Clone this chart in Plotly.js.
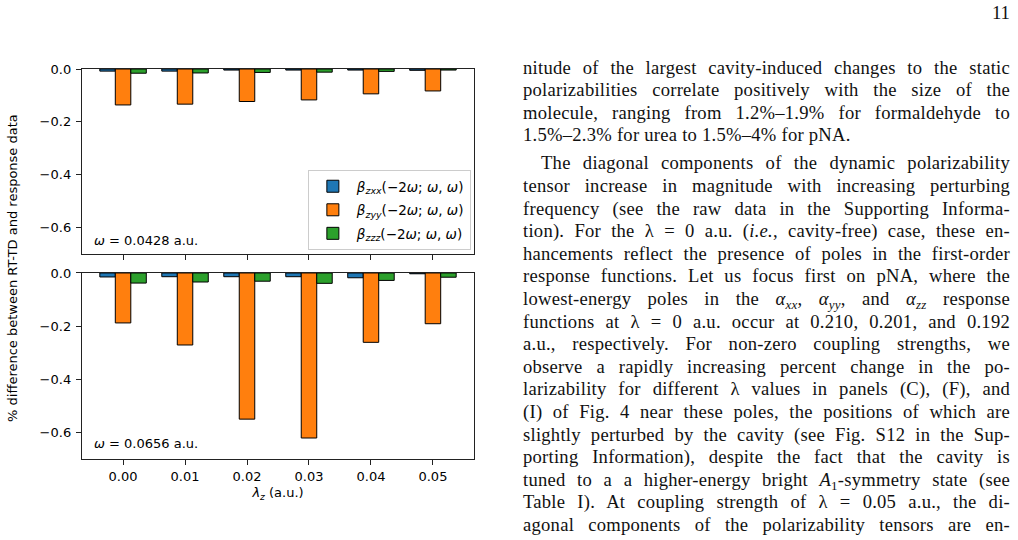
<!DOCTYPE html>
<html>
<head>
<meta charset="utf-8">
<script src="https://cdn.plot.ly/plotly-3.0.1.min.js"></script>
<style>
  body { margin: 0; background: #fff; width: 1018px; height: 540px; overflow: hidden; position: relative; }
  #chart { position: absolute; left: 0; top: 0; width: 480px; height: 540px; }
  #pageno { position: absolute; right: 8px; top: 2px; font-family: "Liberation Serif", serif; font-size: 18.8px; color: #111; }
  #page { position: absolute; left: 523px; top: 56.7px; width: 487px; font-family: "Liberation Serif", serif;
          font-size: 18.6px; letter-spacing: 0.25px; line-height: 22.6px; color: #111; }
  .l { text-align: justify; text-align-last: justify; height: 22.6px; }
  .last { text-align: left; text-align-last: left; }
  .ind { text-indent: 18px; margin-top: 5.4px; }
  .sb { font-size: 70%; position: relative; top: 4px; }
</style>
</head>
<body>
<div id="chart"></div>
<div id="pageno">11</div>
<div id="page">
  <div class="l">nitude of the largest cavity-induced changes to the static</div>
  <div class="l">polarizabilities correlate positively with the size of the</div>
  <div class="l">molecule, ranging from 1.2%–1.9% for formaldehyde to</div>
  <div class="l last">1.5%–2.3% for urea to 1.5%–4% for pNA.</div>
  <div class="l ind">The diagonal components of the dynamic polarizability</div>
  <div class="l">tensor increase in magnitude with increasing perturbing</div>
  <div class="l">frequency (see the raw data in the Supporting Informa-</div>
  <div class="l">tion). For the λ = 0 a.u. (<i>i.e.</i>, cavity-free) case, these en-</div>
  <div class="l">hancements reflect the presence of poles in the first-order</div>
  <div class="l">response functions. Let us focus first on pNA, where the</div>
  <div class="l">lowest-energy poles in the <i>α<span class="sb">xx</span></i>, <i>α<span class="sb">yy</span></i>, and <i>α<span class="sb">zz</span></i> response</div>
  <div class="l">functions at λ = 0 a.u. occur at 0.210, 0.201, and 0.192</div>
  <div class="l">a.u., respectively. For non-zero coupling strengths, we</div>
  <div class="l">observe a rapidly increasing percent change in the po-</div>
  <div class="l">larizability for different λ values in panels (C), (F), and</div>
  <div class="l">(I) of Fig. 4 near these poles, the positions of which are</div>
  <div class="l">slightly perturbed by the cavity (see Fig. S12 in the Sup-</div>
  <div class="l">porting Information), despite the fact that the cavity is</div>
  <div class="l">tuned to a a higher-energy bright <i>A</i><span class="sb">1</span>-symmetry state (see</div>
  <div class="l">Table I). At coupling strength of λ = 0.05 a.u., the di-</div>
  <div class="l">agonal components of the polarizability tensors are en-</div>
</div>
<script>
// Cavity coupling strengths (a.u.)
const lambdaZ = [0.00, 0.01, 0.02, 0.03, 0.04, 0.05];
const lambdaTicks = ['0.00', '0.01', '0.02', '0.03', '0.04', '0.05'];

// % difference, omega = 0.0428 a.u.
const zxxLow = [-0.008, -0.008, -0.004, -0.004, -0.004, -0.005];
const zyyLow = [-0.136, -0.133, -0.123, -0.117, -0.094, -0.083];
const zzzLow = [-0.016, -0.015, -0.013, -0.012, -0.009, -0.004];

// % difference, omega = 0.0656 a.u.
const zxxHigh = [-0.015, -0.014, -0.014, -0.014, -0.018, -0.003];
const zyyHigh = [-0.188, -0.271, -0.550, -0.621, -0.261, -0.191];
const zzzHigh = [-0.038, -0.034, -0.031, -0.039, -0.028, -0.016];

const seriesNames = [
  '<i>β</i><sub><i>zxx</i></sub>(−2<i>ω</i>; <i>ω</i>, <i>ω</i>)',
  '<i>β</i><sub><i>zyy</i></sub>(−2<i>ω</i>; <i>ω</i>, <i>ω</i>)',
  '<i>β</i><sub><i>zzz</i></sub>(−2<i>ω</i>; <i>ω</i>, <i>ω</i>)'
];
const groups = ['zxx', 'zyy', 'zzz'];
const colors = ['#1f77b4', '#ff7f0e', '#2ca02c'];
const omegaLabels = ['<i>ω</i> = 0.0428 a.u.', '<i>ω</i> = 0.0656 a.u.'];

const barW = 0.0025;
const offsets = [-1.5 * barW, -0.5 * barW, 0.5 * barW];

function bars(values, idx, axis, showLegend) {
  return {
    type: 'bar', x: lambdaZ, y: values, name: seriesNames[idx], legendgroup: groups[idx],
    width: barW, offset: offsets[idx],
    marker: { color: colors[idx], line: { color: '#000', width: 1 } },
    xaxis: axis.x, yaxis: axis.y, showlegend: showLegend, hoverinfo: 'x+y'
  };
}

const topAx = { x: 'x2', y: 'y2' };
const botAx = { x: 'x', y: 'y' };
const data = [
  bars(zxxLow, 0, topAx, true), bars(zyyLow, 1, topAx, true), bars(zzzLow, 2, topAx, true),
  bars(zxxHigh, 0, botAx, false), bars(zyyHigh, 1, botAx, false), bars(zzzHigh, 2, botAx, false)
];

const font = { family: 'DejaVu Sans, sans-serif', size: 13, color: '#000' };
const xRange = [-0.006625, 0.056625];
const axisLine = { showline: true, mirror: true, linecolor: '#222', linewidth: 1.2, showgrid: false, zeroline: false,
                   ticks: 'outside', ticklen: 5, tickwidth: 1, tickcolor: '#222' };

const yBase = Object.assign({}, axisLine, {
  range: [-0.7, 0], tickvals: [0, -0.2, -0.4, -0.6], tickformat: '.1f', tickfont: font,
  ticklabelstandoff: 2
});

const layout = {
  width: 480, height: 540,
  margin: { l: 82, r: 6, t: 69, b: 81 },
  paper_bgcolor: '#fff', plot_bgcolor: '#fff',
  font: font,
  barmode: 'overlay',
  showlegend: true,
  legend: {
    x: 0.992, xanchor: 'right', y: 0.536, yanchor: 'bottom',
    bgcolor: 'rgba(255,255,255,0.8)', bordercolor: '#cccccc', borderwidth: 1,
    font: { family: 'DejaVu Sans, sans-serif', size: 13.5, color: '#000' },
    traceorder: 'grouped', tracegroupgap: 3, itemwidth: 38
  },
  xaxis: Object.assign({}, axisLine, {
    domain: [0, 1], anchor: 'y', range: xRange,
    tickvals: lambdaZ, ticktext: lambdaTicks, tickfont: font,
    title: { text: '<i>λ</i><sub><i>z</i></sub> (a.u.)', font: font, standoff: 5 }
  }),
  xaxis2: Object.assign({}, axisLine, {
    domain: [0, 1], anchor: 'y2', range: xRange, matches: 'x',
    tickvals: lambdaZ, showticklabels: false
  }),
  yaxis: Object.assign({}, yBase, { domain: [0, 0.477], anchor: 'x' }),
  yaxis2: Object.assign({}, yBase, { domain: [0.5256, 1], anchor: 'x2' }),
  annotations: [
    { xref: 'paper', yref: 'paper', x: 0.026, y: 0.5615, xanchor: 'left', yanchor: 'middle',
      text: omegaLabels[0], showarrow: false, font: font },
    { xref: 'paper', yref: 'paper', x: 0.026, y: 0.0385, xanchor: 'left', yanchor: 'middle',
      text: omegaLabels[1], showarrow: false, font: font },
    { xref: 'paper', yref: 'paper', x: -0.176, y: 0.49, xanchor: 'center', yanchor: 'middle',
      text: '% difference between RT-TD and response data', textangle: -90, showarrow: false, font: font }
  ]
};

Plotly.newPlot('chart', data, layout, { staticPlot: true, displayModeBar: false });
</script>
</body>
</html>
